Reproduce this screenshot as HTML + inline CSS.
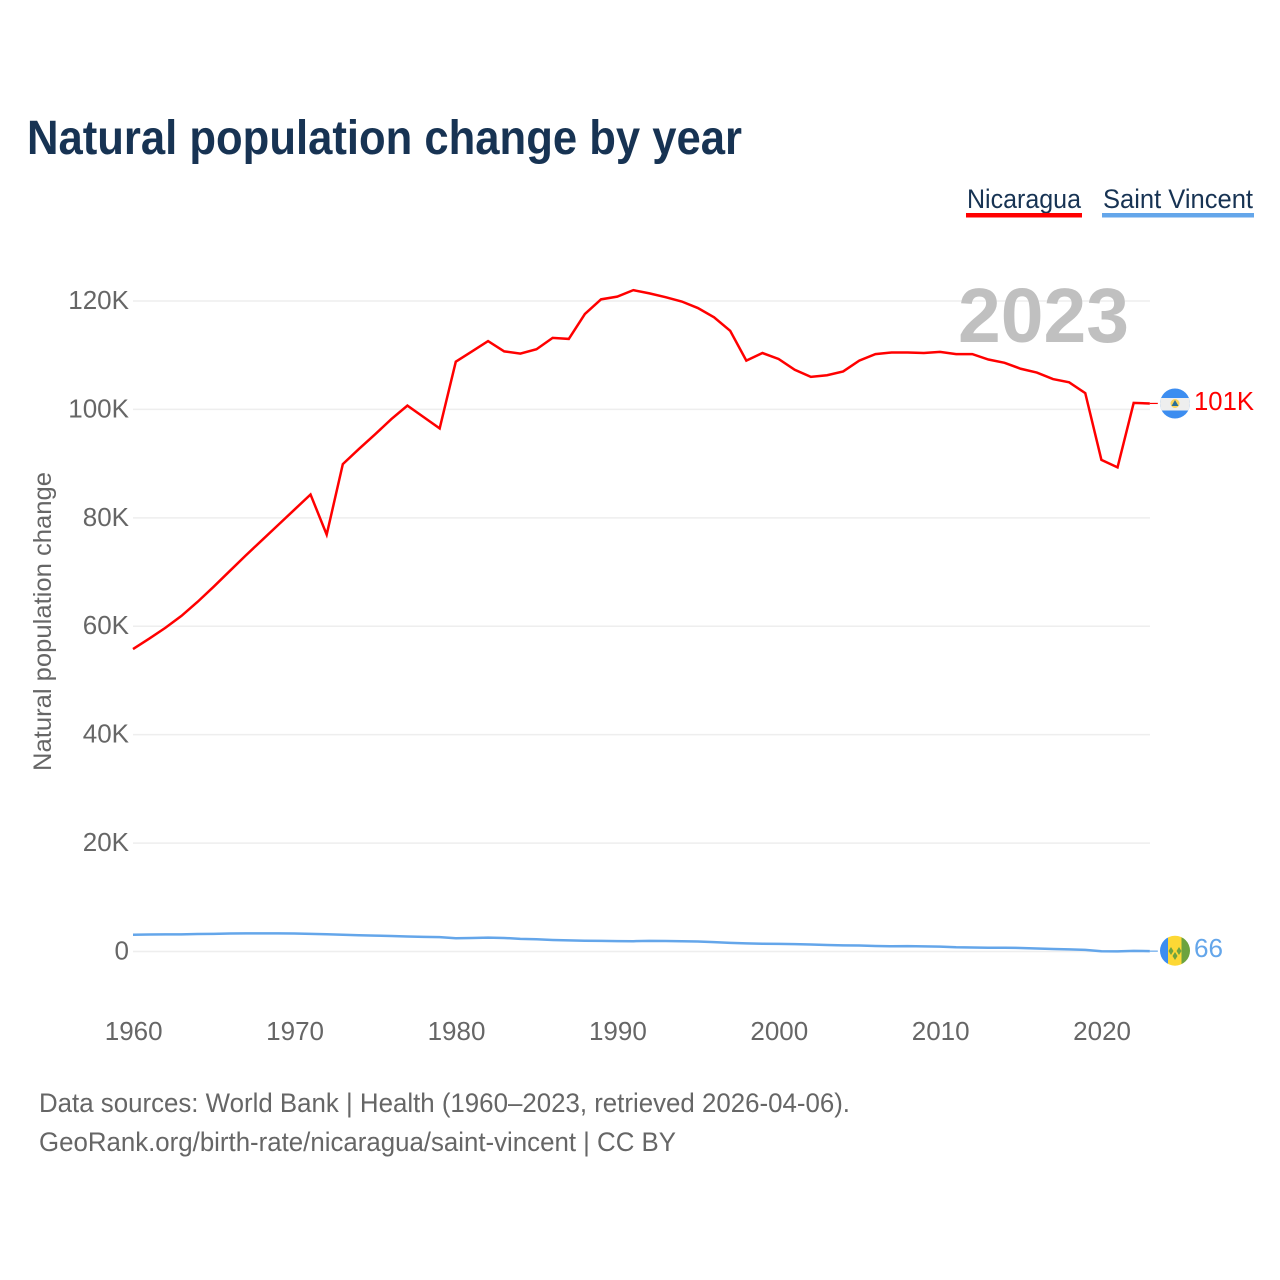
<!DOCTYPE html>
<html lang="en">
<head>
<meta charset="utf-8">
<title>Natural population change by year</title>
<style>
html,body{margin:0;padding:0;background:#fff;}
svg{display:block;font-family:"Liberation Sans",sans-serif;}
</style>
</head>
<body>
<svg id="chart" xmlns="http://www.w3.org/2000/svg" width="1280" height="1280" viewBox="0 0 1280 1280">
  <defs>
    <clipPath id="clip-nic"><circle cx="1175" cy="403.5" r="15"/></clipPath>
    <clipPath id="clip-svc"><circle cx="1175" cy="950.7" r="15"/></clipPath>
  </defs>
  <rect x="0" y="0" width="1280" height="1280" fill="#fff"/>
  <text x="27" y="154" font-size="48" font-weight="700" fill="#173353" textLength="715" lengthAdjust="spacingAndGlyphs">Natural population change by year</text>

  <g>
    <text x="967" y="208" font-size="27" fill="#173353" textLength="114" lengthAdjust="spacingAndGlyphs">Nicaragua</text>
    <rect x="966" y="213" width="116" height="4.5" fill="#ff0000"/>
  </g>
  <g>
    <text x="1103" y="208" font-size="27" fill="#173353" textLength="150" lengthAdjust="spacingAndGlyphs">Saint Vincent</text>
    <rect x="1102" y="213" width="152" height="4.5" fill="#64a6ea"/>
  </g>

  <g id="grid"></g>
  <text x="1129" y="342" font-size="77" font-weight="700" fill="#c0c0c0" text-anchor="end" textLength="171" lengthAdjust="spacingAndGlyphs">2023</text>
  <g id="y-ticks"></g>
  <g id="x-ticks"></g>
  <text transform="translate(51,771) rotate(-90)" font-size="25" fill="#666" textLength="299" lengthAdjust="spacingAndGlyphs">Natural population change</text>
  <g id="series"></g>

  <g clip-path="url(#clip-nic)">
    <rect x="1160" y="388" width="30" height="31" fill="#3c8df0"/>
    <rect x="1160" y="398" width="30" height="12.5" fill="#eeeeee"/>
    <circle cx="1175" cy="403.5" r="4.5" fill="#fbd45c"/>
    <polygon points="1175,400 1171.5,406 1178.5,406" fill="#2a6f97"/>
  </g>
  <g clip-path="url(#clip-svc)">
    <rect x="1160" y="935" width="8.5" height="32" fill="#3c8df0"/>
    <rect x="1168" y="935" width="14" height="32" fill="#fdd835"/>
    <rect x="1181.5" y="935" width="8.5" height="32" fill="#6ca33f"/>
    <polygon points="1171,947 1173.5,951 1171,955 1168.5,951" fill="#6ca33f"/>
    <polygon points="1179,947 1181.5,951 1179,955 1176.5,951" fill="#6ca33f"/>
    <polygon points="1175,952 1177.5,956 1175,960 1172.5,956" fill="#6ca33f"/>
  </g>

  <text x="1194" y="410" font-size="26" fill="#ff0000" textLength="60" lengthAdjust="spacingAndGlyphs">101K</text>
  <text x="1194" y="957" font-size="26" fill="#64a6ea" textLength="29" lengthAdjust="spacingAndGlyphs">66</text>

  <text x="39" y="1112" font-size="27" fill="#666" textLength="811" lengthAdjust="spacingAndGlyphs">Data sources: World Bank | Health (1960–2023, retrieved 2026-04-06).</text>
  <text x="39" y="1151" font-size="27" fill="#666" textLength="637" lengthAdjust="spacingAndGlyphs">GeoRank.org/birth-rate/nicaragua/saint-vincent | CC BY</text>
</svg>
<script>
const years = [1960,1961,1962,1963,1964,1965,1966,1967,1968,1969,1970,1971,1972,1973,1974,1975,1976,1977,1978,1979,1980,1981,1982,1983,1984,1985,1986,1987,1988,1989,1990,1991,1992,1993,1994,1995,1996,1997,1998,1999,2000,2001,2002,2003,2004,2005,2006,2007,2008,2009,2010,2011,2012,2013,2014,2015,2016,2017,2018,2019,2020,2021,2022,2023];
const nicaragua = [55800,57700,59700,61900,64500,67300,70200,73100,75900,78700,81500,84300,76900,89900,92700,95400,98200,100700,98600,96500,108800,110700,112600,110700,110300,111100,113200,113000,117600,120300,120800,122000,121400,120700,119900,118700,117000,114500,109000,110400,109300,107300,106000,106300,107000,109000,110200,110500,110500,110400,110600,110200,110200,109200,108600,107500,106800,105600,105000,103000,90700,89300,101200,101100];
const saintVincent = [3100,3130,3150,3170,3220,3260,3320,3340,3350,3350,3320,3260,3180,3100,3000,2930,2850,2760,2700,2650,2450,2500,2550,2500,2330,2250,2130,2050,1980,1950,1920,1900,1950,1930,1880,1850,1730,1600,1500,1430,1400,1350,1300,1200,1130,1100,1020,970,1000,950,900,780,740,690,690,650,550,470,400,300,40,30,120,66];
const yTickValues = [0,20000,40000,60000,80000,100000,120000];
const yTickLabels = ["0","20K","40K","60K","80K","100K","120K"];
const xTickValues = [1960,1970,1980,1990,2000,2010,2020];
const xTickLabels = ["1960","1970","1980","1990","2000","2010","2020"];

const NS = "http://www.w3.org/2000/svg";
function xScale(year){ return 133 + (year - 1960) * 16.14; }
function yScale(v){ return 951.5 - v * 108.42 / 20000; }
function make(tag, parent, attrs){
  const el = document.createElementNS(NS, tag);
  Object.keys(attrs).forEach(function(k){ el.setAttribute(k, attrs[k]); });
  parent.appendChild(el);
  return el;
}
const grid = document.getElementById("grid");
const yTicks = document.getElementById("y-ticks");
const xTicks = document.getElementById("x-ticks");
const series = document.getElementById("series");

yTickValues.forEach(function(v, i){
  const line = make("line", grid, {x1:133, x2:1150, y1:yScale(v), y2:yScale(v), stroke:"#eeeeee", "stroke-width":1.5});
  
  
  const t = make("text", yTicks, {x:129, y:yScale(v)+8, "font-size":26, fill:"#666", "text-anchor":"end"});
  t.textContent = yTickLabels[i];
  
  
});
xTickValues.forEach(function(v, i){
  const t = make("text", xTicks, {x:xScale(v)+0.7, y:1040, "font-size":26, fill:"#666", "text-anchor":"middle"});
  t.textContent = xTickLabels[i];
  
  
});
function drawSeries(values, color, name){
  const d = values.map(function(v, i){
    return (i ? "L" : "M") + xScale(years[i]).toFixed(2) + " " + yScale(v).toFixed(2);
  }).join(" ");
  const p = make("path", series, {d:d, fill:"none", stroke:color, "stroke-width":2.5, "stroke-linejoin":"miter"});
  
  
  const last = values[values.length - 1];
  const c = make("line", series, {x1:xScale(years[years.length-1]), x2:xScale(years[years.length-1])+8, y1:yScale(last), y2:yScale(last), stroke:color, "stroke-width":1.2});
  
  
}
drawSeries(saintVincent, "#64a6ea", "line-saint-vincent");
drawSeries(nicaragua, "#ff0000", "line-nicaragua");
</script>
</body>
</html>
